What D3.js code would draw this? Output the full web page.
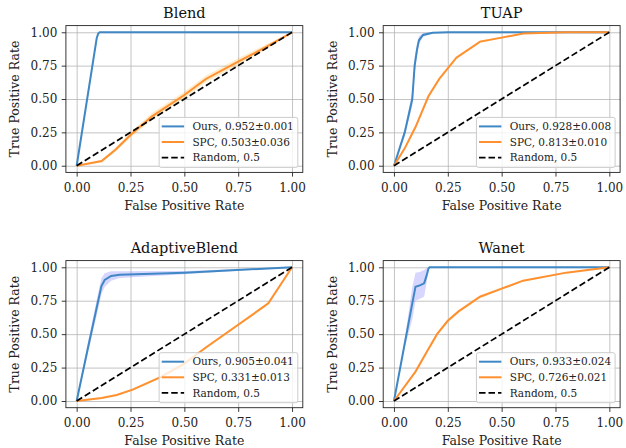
<!DOCTYPE html>
<html>
<head>
<meta charset="utf-8">
<script src="https://cdn.jsdelivr.net/npm/d3@7"></script>
<style>
  body { margin: 0; background: #fff; }
  svg { font-family: "DejaVu Serif", serif; }
</style>
</head>
<body>
<div class="chart"></div>
<script>
// ROC curves (fpr, mean tpr, std of tpr)
var blendOursFpr = [0, 0.093, 0.1, 0.107, 1];
var blendOursTpr = [0, 0.955, 0.99, 1, 1];
var blendOursStd = [0, 0.005, 0.004, 0, 0];
var blendSpcFpr = [0, 0.05, 0.116, 0.18, 0.25, 0.35, 0.5, 0.6, 0.75, 0.88, 1];
var blendSpcTpr = [0, 0.015, 0.035, 0.12, 0.23, 0.37, 0.53, 0.65, 0.78, 0.89, 1];
var blendSpcStd = [0, 0.005, 0.01, 0.015, 0.02, 0.025, 0.025, 0.025, 0.025, 0.02, 0];

var tuapOursFpr = [0, 0.05, 0.085, 0.096, 0.107, 0.116, 0.135, 0.18, 0.25, 1];
var tuapOursTpr = [0, 0.25, 0.5, 0.75, 0.87, 0.94, 0.98, 0.997, 1, 1];
var tuapOursStd = [0, 0.03, 0.05, 0.06, 0.045, 0.03, 0.015, 0.004, 0, 0];
var tuapSpcFpr = [0, 0.05, 0.1, 0.16, 0.21, 0.29, 0.4, 0.5, 0.6, 0.8, 1];
var tuapSpcTpr = [0, 0.13, 0.29, 0.52, 0.65, 0.81, 0.93, 0.96, 0.99, 1, 1];
var tuapSpcStd = [0, 0.01, 0.012, 0.015, 0.015, 0.012, 0.008, 0.006, 0.004, 0, 0];

var adaOursFpr = [0, 0.05, 0.1, 0.115, 0.13, 0.16, 0.2, 0.5, 1];
var adaOursTpr = [0, 0.38, 0.75, 0.86, 0.905, 0.935, 0.945, 0.96, 1];
var adaOursStd = [0, 0.04, 0.06, 0.06, 0.05, 0.035, 0.025, 0.012, 0];
var adaSpcFpr = [0, 0.116, 0.186, 0.26, 0.387, 0.5, 0.6, 0.75, 0.89, 1];
var adaSpcTpr = [0, 0.022, 0.045, 0.085, 0.177, 0.28, 0.4, 0.57, 0.73, 1];
var adaSpcStd = [0, 0.005, 0.006, 0.008, 0.01, 0.01, 0.01, 0.01, 0.01, 0];

var wanetOursFpr = [0, 0.05, 0.085, 0.1, 0.12, 0.14, 0.15, 0.16, 0.165, 1];
var wanetOursTpr = [0, 0.43, 0.73, 0.855, 0.865, 0.88, 0.93, 0.99, 1, 1];
var wanetOursStd = [0, 0.03, 0.12, 0.105, 0.1, 0.1, 0.06, 0.02, 0, 0];
var wanetSpcFpr = [0, 0.1, 0.15, 0.2, 0.25, 0.3, 0.4, 0.5, 0.6, 0.8, 1];
var wanetSpcTpr = [0, 0.22, 0.36, 0.5, 0.6, 0.67, 0.78, 0.84, 0.9, 0.96, 1];
var wanetSpcStd = [0, 0.01, 0.012, 0.012, 0.012, 0.01, 0.01, 0.008, 0.006, 0.004, 0];

var titles = ["Blend", "TUAP", "AdaptiveBlend", "Wanet"];
var oursLabels = ["Ours, 0.952\u00b10.001", "Ours, 0.928\u00b10.008", "Ours, 0.905\u00b10.041", "Ours, 0.933\u00b10.024"];
var spcLabels = ["SPC, 0.503\u00b10.036", "SPC, 0.813\u00b10.010", "SPC, 0.331\u00b10.013", "SPC, 0.726\u00b10.021"];
var randomLabel = "Random, 0.5";
var ticks = [0, 0.25, 0.5, 0.75, 1];

function zipCurve(fpr, tpr, std) {
  return fpr.map(function (f, i) { return { x: f, y: tpr[i], s: std[i] }; });
}

var panels = [
  { ours: zipCurve(blendOursFpr, blendOursTpr, blendOursStd), spc: zipCurve(blendSpcFpr, blendSpcTpr, blendSpcStd) },
  { ours: zipCurve(tuapOursFpr, tuapOursTpr, tuapOursStd), spc: zipCurve(tuapSpcFpr, tuapSpcTpr, tuapSpcStd) },
  { ours: zipCurve(adaOursFpr, adaOursTpr, adaOursStd), spc: zipCurve(adaSpcFpr, adaSpcTpr, adaSpcStd) },
  { ours: zipCurve(wanetOursFpr, wanetOursTpr, wanetOursStd), spc: zipCurve(wanetSpcFpr, wanetSpcTpr, wanetSpcStd) }
];

// axes frames in pixels
var boxes = [
  { left: 65.9, right: 302.8, top: 25.6, bottom: 172.4 },
  { left: 383.2, right: 620.1, top: 25.6, bottom: 172.4 },
  { left: 65.9, right: 302.8, top: 260.6, bottom: 407.7 },
  { left: 383.2, right: 620.1, top: 260.6, bottom: 407.7 }
];

var blue = "#3f88c5", orange = "#ff9030";

var svg = d3.select('.chart').append('svg')
  .attr('width', 626).attr('height', 448);

panels.forEach(function (p, i) {
  var b = boxes[i];
  var w = b.right - b.left, h = b.bottom - b.top;
  var g = svg.append('g').attr('transform', 'translate(' + b.left + ',' + b.top + ')');

  var x = d3.scaleLinear().domain([-0.05, 1.05]).range([0, w]);
  var y = d3.scaleLinear().domain([-0.05, 1.05]).range([h, 0]);

  // grid
  var gx = g.append('g').call(d3.axisBottom(x).tickValues(ticks).tickSize(h).tickFormat(''));
  var gy = g.append('g').call(d3.axisLeft(y).tickValues(ticks).tickSize(-w).tickFormat(''));
  [gx, gy].forEach(function (a) {
    a.select('.domain').remove();
    a.selectAll('line').attr('stroke', '#b0b0b0').attr('stroke-opacity', 0.75).attr('stroke-width', 1);
  });

  var area = d3.area()
    .x(function (d) { return x(d.x); })
    .y0(function (d) { return y(Math.max(0, d.y - d.s)); })
    .y1(function (d) { return y(Math.min(1, d.y + d.s)); });
  var line = d3.line()
    .x(function (d) { return x(d.x); })
    .y(function (d) { return y(d.y); });

  g.append('path').datum(p.ours).attr('d', area).attr('fill', '#6a6aff').attr('fill-opacity', 0.28);
  g.append('path').datum(p.ours).attr('d', line).attr('fill', 'none')
    .attr('stroke', blue).attr('stroke-width', 2);
  g.append('path').datum(p.spc).attr('d', area).attr('fill', 'orange').attr('fill-opacity', 0.22);
  g.append('path').datum(p.spc).attr('d', line).attr('fill', 'none')
    .attr('stroke', orange).attr('stroke-width', 2);
  g.append('path').datum([{ x: 0, y: 0 }, { x: 1, y: 1 }]).attr('d', line).attr('fill', 'none')
    .attr('stroke', '#000').attr('stroke-width', 1.7).attr('stroke-dasharray', '6.5,3');

  // axes
  var ax = g.append('g').attr('transform', 'translate(0,' + h + ')')
    .call(d3.axisBottom(x).tickValues(ticks).tickSize(4.2).tickPadding(6.8).tickFormat(d3.format('.2f')));
  var ay = g.append('g')
    .call(d3.axisLeft(y).tickValues(ticks).tickSize(4.2).tickPadding(4.4).tickFormat(d3.format('.2f')));
  [ax, ay].forEach(function (a) {
    a.select('.domain').remove();
    a.selectAll('line').attr('stroke', '#222').attr('stroke-width', 0.9);
    a.selectAll('text').attr('fill', '#222').style('font-family', '"DejaVu Serif", serif').style('font-size', '12px');
  });
  g.append('rect').attr('width', w).attr('height', h)
    .attr('fill', 'none').attr('stroke', '#222').attr('stroke-width', 0.9);

  // labels
  g.append('text').attr('x', w / 2).attr('y', -7.5).attr('text-anchor', 'middle')
    .style('font-size', '14.5px').attr('fill', '#111').text(titles[i]);
  g.append('text').attr('x', w / 2).attr('y', h + 37.6).attr('text-anchor', 'middle')
    .style('font-size', '12.5px').attr('fill', '#222').text('False Positive Rate');
  g.append('text').attr('transform', 'translate(-46.6,' + (h / 2) + ') rotate(-90)')
    .attr('text-anchor', 'middle').style('font-size', '12.5px').attr('fill', '#222')
    .text('True Positive Rate');

  // legend, lower right
  var items = [
    { label: oursLabels[i], color: blue, dash: null },
    { label: spcLabels[i], color: orange, dash: null },
    { label: randomLabel, color: '#000', dash: '6.5,3' }
  ];
  var lg = g.append('g');
  var box = lg.append('rect').attr('rx', 2).attr('fill', '#fff').attr('fill-opacity', 0.8)
    .attr('stroke', '#cccccc').attr('stroke-width', 1);
  var maxW = 0;
  items.forEach(function (it, k) {
    var ry = 9 + k * 15.6;
    lg.append('line').attr('x1', 2.6).attr('x2', 25).attr('y1', ry).attr('y2', ry)
      .attr('stroke', it.color).attr('stroke-width', it.dash ? 1.7 : 2)
      .attr('stroke-dasharray', it.dash);
    var t = lg.append('text').attr('x', 33.3).attr('y', ry).attr('dy', '0.36em')
      .style('font-size', '10.5px').attr('fill', '#222').text(it.label);
    maxW = Math.max(maxW, t.node().getComputedTextLength());
  });
  var bw = 33.3 + maxW + 4, bh = 50;
  box.attr('width', bw).attr('height', bh);
  lg.attr('transform', 'translate(' + (w - 5 - bw) + ',' + (h - 5 - bh) + ')');
});
</script>
</body>
</html>
